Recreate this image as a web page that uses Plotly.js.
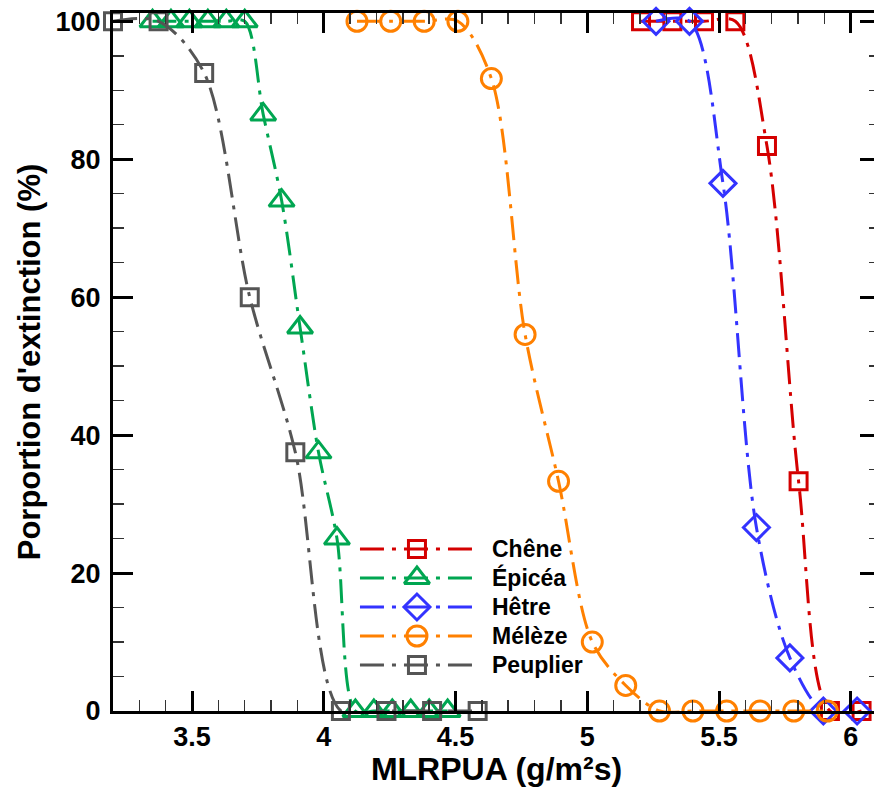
<!DOCTYPE html>
<html>
<head>
<meta charset="utf-8">
<script src="https://cdn.plot.ly/plotly-3.0.1.min.js"></script>
<style>
  html, body { margin: 0; padding: 0; overflow: hidden; background: #fff; }
  #chart { width: 885px; height: 787px; }
</style>
</head>
<body>
<div id="chart"></div>
<script>
// Extinction proportion (%) against mass loss rate per unit area, by wood species
const species = ['Chêne', 'Épicéa', 'Hêtre', 'Mélèze', 'Peuplier'];

const cheneX = [5.204, 5.323, 5.443, 5.562, 5.682, 5.802, 5.921, 6.041];
const cheneY = [100, 100, 100, 100, 81.9, 33.3, 0, 0];

const epiceaX = [3.35, 3.42, 3.49, 3.56, 3.63, 3.70, 3.77, 3.84, 3.91, 3.98, 4.05, 4.12, 4.19, 4.26, 4.33, 4.40, 4.47];
const epiceaY = [100, 100, 100, 100, 100, 100, 86.5, 74, 55.6, 37.5, 25, 0, 0, 0, 0, 0, 0];

const hetreX = [5.261, 5.388, 5.515, 5.642, 5.769, 5.896, 6.024];
const hetreY = [100, 100, 76.5, 26.6, 7.7, 0, 0];

const melezeX = [4.126, 4.254, 4.381, 4.509, 4.636, 4.764, 4.891, 5.019, 5.146, 5.274, 5.401, 5.529, 5.656, 5.784, 5.911];
const melezeY = [100, 100, 100, 100, 91.7, 54.6, 33.3, 10, 3.7, 0, 0, 0, 0, 0, 0];

const peuplierX = [3.2, 3.373, 3.546, 3.719, 3.892, 4.065, 4.238, 4.411, 4.584];
const peuplierY = [100, 100, 92.5, 60, 37.5, 0, 0, 0, 0];

const xTicks = [3.5, 4, 4.5, 5, 5.5, 6];
const yTicks = [0, 20, 40, 60, 80, 100];

// Styling per series
const seriesX = [cheneX, epiceaX, hetreX, melezeX, peuplierX];
const seriesY = [cheneY, epiceaY, hetreY, melezeY, peuplierY];
const colors = ['#d40000', '#00a651', '#3333ff', '#ff8000', '#555555'];
const symbols = ['square-open', 'triangle-up-open', 'diamond-open', 'circle-open', 'square-open'];
const sizes = [17, 22, 20, 20, 17];
const DASH = '24px,8px,4px,8px';
const FONT = 'Liberation Sans, Arial, Helvetica, sans-serif';

const traces = [];
species.forEach((name, i) => {
  traces.push({
    type: 'scatter', mode: 'lines+markers', name: name,
    x: seriesX[i], y: seriesY[i],
    line: { color: colors[i], width: 3, dash: DASH, shape: 'spline', smoothing: 0.9 },
    marker: { symbol: symbols[i], size: sizes[i], color: colors[i], line: { color: colors[i], width: 3 } },
    cliponaxis: false, showlegend: false, hoverinfo: 'x+y+name'
  });
});

// Legend block drawn in plot-fraction coordinates on a hidden overlay axis pair
const legTop = 0.2321, legStep = 0.04155;
const legX0 = 0.322, legX1 = 0.4694, legXm = 0.3963, legText = 0.4915;
const annotations = [];
species.forEach((name, i) => {
  const yy = legTop - i * legStep;
  traces.push({
    type: 'scatter', mode: 'lines', xaxis: 'x2', yaxis: 'y2',
    x: [legX0, legX1], y: [yy, yy],
    line: { color: colors[i], width: 3, dash: DASH },
    showlegend: false, hoverinfo: 'skip'
  });
  traces.push({
    type: 'scatter', mode: 'markers', xaxis: 'x2', yaxis: 'y2',
    x: [legXm], y: [yy],
    marker: { symbol: symbols[i], size: sizes[i], color: colors[i], line: { color: colors[i], width: 3 } },
    showlegend: false, hoverinfo: 'skip', cliponaxis: false
  });
  annotations.push({
    xref: 'paper', yref: 'paper', x: legText, y: yy,
    xanchor: 'left', yanchor: 'middle', showarrow: false,
    text: name, font: { family: FONT, size: 23, color: '#000', weight: 'bold' }
  });
});

const axisCommon = {
  showline: true, linecolor: '#000', linewidth: 3,
  ticks: 'inside', ticklen: 20, tickwidth: 3, tickcolor: '#000',
  mirror: 'allticks', showgrid: false, zeroline: false,
  tickfont: { family: FONT, size: 27, color: '#000', weight: 'bold' }
};

const layout = {
  width: 885, height: 787,
  margin: { l: 113, r: 5, t: 13, b: 76 },
  paper_bgcolor: '#fff', plot_bgcolor: '#fff',
  showlegend: false,
  xaxis: Object.assign({}, axisCommon, {
    range: [3.2, 6.111], tickvals: xTicks, ticktext: xTicks.map(String),
    ticklabelstandoff: 0,
    minor: { dtick: 0.1, tick0: 0, ticks: 'inside', ticklen: 11, tickwidth: 1.5, tickcolor: '#333' },
    title: { text: 'MLRPUA (g/m²s)', font: { family: FONT, size: 32, color: '#000', weight: 'bold' }, standoff: 2 }
  }),
  yaxis: Object.assign({}, axisCommon, {
    range: [0, 101.2], tickvals: yTicks, ticktext: yTicks.map(String),
    ticklabelstandoff: 4,
    minor: { dtick: 5, tick0: 0, ticks: 'inside', ticklen: 11, tickwidth: 1.5, tickcolor: '#333' },
    title: { text: "Porportion d'extinction (%)", font: { family: FONT, size: 31, color: '#000', weight: 'bold' }, standoff: 6 }
  }),
  xaxis2: { overlaying: 'x', range: [0, 1], visible: false, fixedrange: true },
  yaxis2: { overlaying: 'y', range: [0, 1], visible: false, fixedrange: true },
  annotations: annotations
};

Plotly.newPlot('chart', traces, layout, { displayModeBar: false, staticPlot: true });
</script>
</body>
</html>
